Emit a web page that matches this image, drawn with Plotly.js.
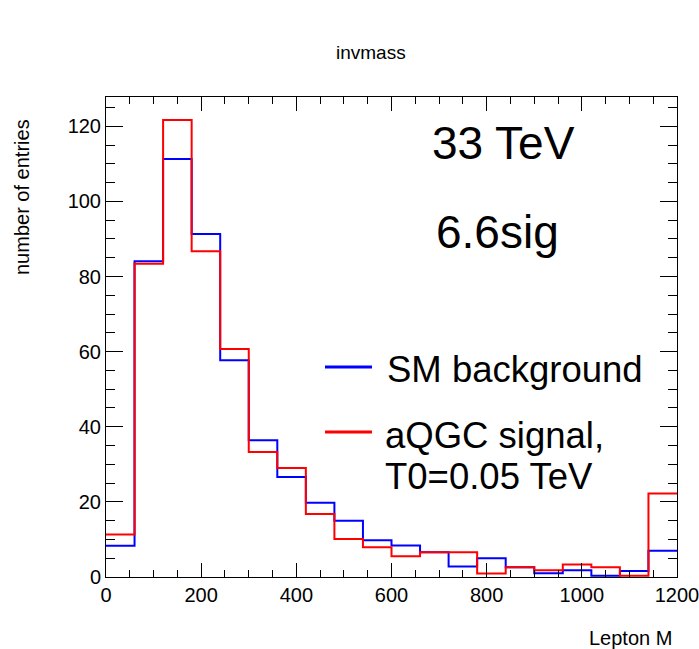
<!DOCTYPE html>
<html>
<head>
<meta charset="utf-8">
<script src="https://cdn.plot.ly/plotly-3.0.1.min.js"></script>
<style>
  html, body { margin: 0; padding: 0; background: #ffffff; }
  #chart { width: 699px; height: 649px; }
</style>
</head>
<body>
<div id="chart"></div>
<script>
// Lepton invariant-mass histogram: 20 bins of 60 between 0 and 1200
const binEdges = [0, 60, 120, 180, 240, 300, 360, 420, 480, 540, 600,
                  660, 720, 780, 840, 900, 960, 1020, 1080, 1140, 1200];

// Entries per bin
const smBackground = [8.3, 84.1, 111.3, 91.3, 57.7, 36.4, 26.6, 19.8, 15.0, 9.8,
                      8.4, 6.6, 2.8, 5.0, 2.6, 1.0, 1.8, 0.3, 1.6, 7.0];
const aqgcSignal   = [11.3, 83.4, 121.7, 86.7, 60.7, 33.3, 29.0, 16.8, 10.1, 7.9,
                      5.5, 6.6, 6.6, 0.9, 2.6, 1.8, 3.3, 2.6, 0.3, 22.2];

const xTickValues = [0, 200, 400, 600, 800, 1000, 1200];
const yTickValues = [0, 20, 40, 60, 80, 100, 120];

const FONT = 'Liberation Sans, Arial, Helvetica, sans-serif';

// step outline: each bin height held from its left edge to the next edge
function stepY(values) {
  return values.concat([values[values.length - 1]]);
}

const traces = [
  {
    type: 'scatter', mode: 'lines', name: 'SM background',
    x: binEdges, y: stepY(smBackground),
    line: { color: '#0000ff', width: 2, shape: 'hv' },
    showlegend: false, hoverinfo: 'skip'
  },
  {
    type: 'scatter', mode: 'lines', name: 'aQGC signal, T0=0.05 TeV',
    x: binEdges, y: stepY(aqgcSignal),
    line: { color: '#ff0000', width: 2, shape: 'hv' },
    showlegend: false, hoverinfo: 'skip'
  }
];

const axisCommon = {
  showgrid: false, zeroline: false,
  showline: true, linecolor: '#000000', linewidth: 1,
  mirror: 'allticks', ticks: 'inside', tickcolor: '#000000', tickwidth: 1,
  tickfont: { family: FONT, size: 20, color: '#000000' },
  ticklabeloverflow: 'allow',
  fixedrange: true
};

const layout = {
  width: 699, height: 649,
  paper_bgcolor: '#ffffff', plot_bgcolor: '#ffffff',
  margin: { l: 106, r: 22, t: 97, b: 72 },
  showlegend: false,
  font: { family: FONT, color: '#000000' },
  xaxis: Object.assign({}, axisCommon, {
    range: [0, 1200], tickmode: 'array', tickvals: xTickValues,
    ticklen: 14,
    minor: { dtick: 50, tick0: 0, ticklen: 7, tickcolor: '#000000', ticks: 'inside', showgrid: false }
  }),
  yaxis: Object.assign({}, axisCommon, {
    range: [0, 127.8], tickmode: 'array', tickvals: yTickValues,
    ticklen: 17,
    minor: { dtick: 5, tick0: 0, ticklen: 9, tickcolor: '#000000', ticks: 'inside', showgrid: false }
  }),
  annotations: [
    { text: 'invmass', xref: 'paper', yref: 'paper', x: 371, y: 52, showarrow: false,
      font: { family: FONT, size: 19, color: '#000000' }, xanchor: 'center', yanchor: 'middle' },
    { text: 'Lepton M', xref: 'paper', yref: 'paper', x: 674, y: 638, showarrow: false,
      font: { family: FONT, size: 20, color: '#000000' }, xanchor: 'right', yanchor: 'middle' },
    { text: 'number of entries', xref: 'paper', yref: 'paper', x: 22, y: 197, showarrow: false,
      textangle: -90, font: { family: FONT, size: 20, color: '#000000' }, xanchor: 'center', yanchor: 'middle' },
    { text: '33 TeV', xref: 'paper', yref: 'paper', x: 503, y: 143, showarrow: false,
      font: { family: FONT, size: 46, color: '#000000' }, xanchor: 'center', yanchor: 'middle' },
    { text: '6.6sig', xref: 'paper', yref: 'paper', x: 498, y: 232, showarrow: false,
      font: { family: FONT, size: 46, color: '#000000' }, xanchor: 'center', yanchor: 'middle' },
    { text: 'SM background', xref: 'paper', yref: 'paper', x: 385, y: 369, showarrow: false,
      font: { family: FONT, size: 36.5, color: '#000000' }, xanchor: 'left', yanchor: 'middle' },
    { text: 'aQGC signal,', xref: 'paper', yref: 'paper', x: 383, y: 435, showarrow: false,
      font: { family: FONT, size: 36.5, color: '#000000' }, xanchor: 'left', yanchor: 'middle' },
    { text: 'T0=0.05 TeV', xref: 'paper', yref: 'paper', x: 383, y: 476, showarrow: false,
      font: { family: FONT, size: 36.5, color: '#000000' }, xanchor: 'left', yanchor: 'middle' }
  ],
  shapes: [
    { type: 'line', xref: 'paper', yref: 'paper', x0: 325, x1: 372, y0: 367, y1: 367,
      line: { color: '#0000ff', width: 3 } },
    { type: 'line', xref: 'paper', yref: 'paper', x0: 325, x1: 372, y0: 432, y1: 432,
      line: { color: '#ff0000', width: 3 } }
  ]
};

// annotation/shape positions above are in page pixels; convert to paper fractions
const plotW = layout.width - layout.margin.l - layout.margin.r;
const plotH = layout.height - layout.margin.t - layout.margin.b;
function px2paperX(px) { return (px - layout.margin.l) / plotW; }
function px2paperY(py) { return 1 - (py - layout.margin.t) / plotH; }
layout.annotations.forEach(a => { a.x = px2paperX(a.x); a.y = px2paperY(a.y); });
layout.shapes.forEach(s => {
  s.x0 = px2paperX(s.x0); s.x1 = px2paperX(s.x1);
  s.y0 = px2paperY(s.y0); s.y1 = px2paperY(s.y1);
});

Plotly.newPlot('chart', traces, layout, { displayModeBar: false, staticPlot: true });
</script>
</body>
</html>
